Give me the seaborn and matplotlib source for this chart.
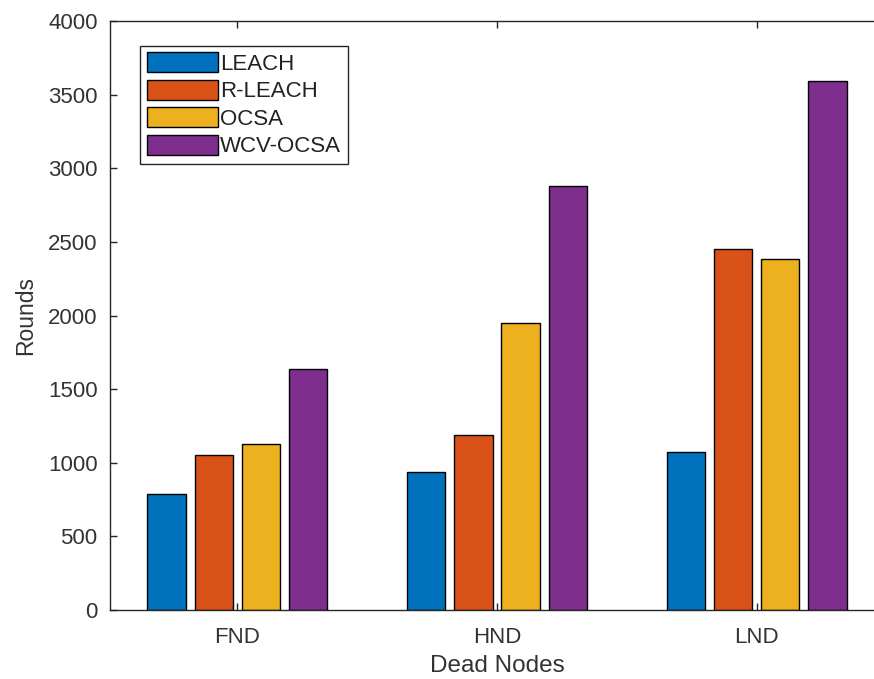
import matplotlib
matplotlib.use("Agg")
import matplotlib.pyplot as plt
import seaborn as sns
import pandas as pd

categories = ["FND", "HND", "LND"]
methods = ["LEACH", "R-LEACH", "OCSA", "WCV-OCSA"]
leach = [790, 940, 1075]
r_leach = [1050, 1190, 2450]
ocsa = [1125, 1950, 2385]
wcv_ocsa = [1640, 2880, 3590]
colors = ["#0072BD", "#D95319", "#EDB120", "#7E2F8E"]

rows = []
for m, vals in zip(methods, [leach, r_leach, ocsa, wcv_ocsa]):
    for c, v in zip(categories, vals):
        rows.append({"Dead Nodes": c, "Method": m, "Rounds": v})
df = pd.DataFrame(rows)

sns.set_theme(style="white")
plt.rcParams["font.family"] = ["Liberation Sans", "DejaVu Sans"]
plt.rcParams["font.size"] = 16

W, H = 874, 679
fig = plt.figure(figsize=(W / 100, H / 100), dpi=100)
ax = fig.add_axes([110 / W, (H - 610) / H, (884 - 110) / W, (610 - 21) / H])

sns.barplot(data=df, x="Dead Nodes", y="Rounds", hue="Method", order=categories,
            hue_order=methods, palette=colors, width=0.726, gap=0.19,
            edgecolor="black", linewidth=1.0, ax=ax, saturation=1, errorbar=None)

ax.set_xlim(-0.49, 2.49)
ax.set_ylim(0, 4000)
ax.set_yticks(range(0, 4001, 500))
axcol = "#262626"
for s in ax.spines.values():
    s.set_color(axcol)
    s.set_linewidth(1.0)
    s.set_visible(True)
ax.tick_params(axis="both", direction="in", length=5, width=1, colors=axcol,
               labelsize=16, labelcolor="#333333", top=True, right=True,
               bottom=True, left=True)
ax.tick_params(axis="x", pad=12)
ax.tick_params(axis="y", pad=9)
ax.set_xlabel("Dead Nodes", fontsize=17.5, color="#333333", labelpad=5)
ax.set_ylabel("Rounds", fontsize=16.5, color="#333333", labelpad=8)

leg = ax.legend(loc="upper left", bbox_to_anchor=(0.039, 0.958), borderaxespad=0,
                fontsize=16, frameon=True, fancybox=False, framealpha=1,
                edgecolor=axcol, handlelength=3.2, handleheight=1.0,
                handletextpad=0.1, labelspacing=0.22, borderpad=0.3)
leg.get_frame().set_linewidth(1.0)
for t in leg.get_texts():
    t.set_color("#222222")

fig.savefig("out.png", dpi=100)
